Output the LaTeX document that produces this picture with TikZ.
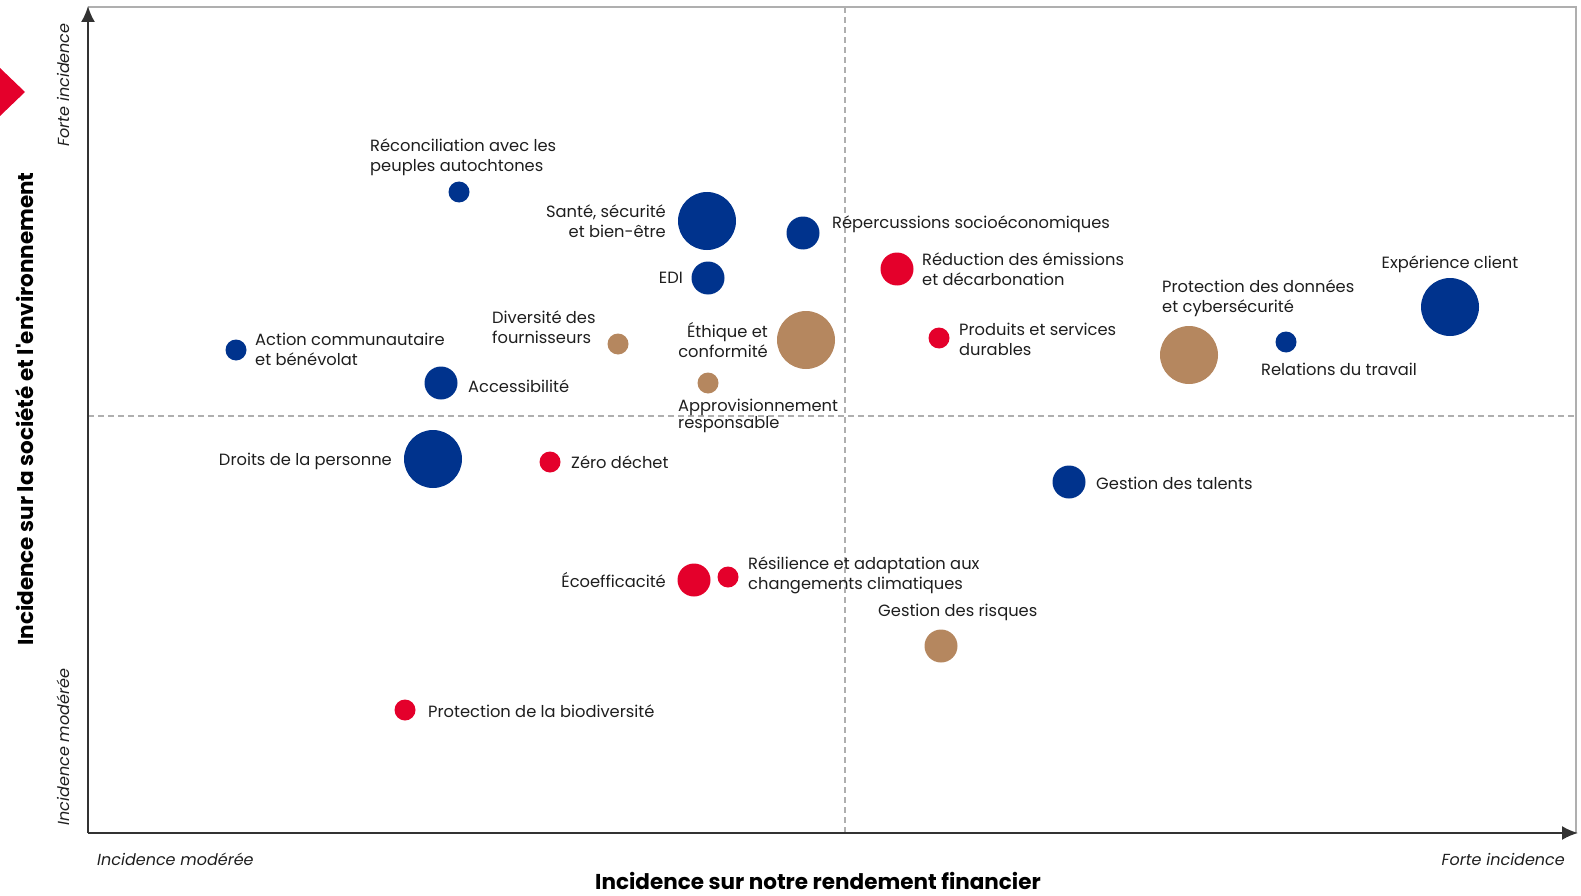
\documentclass[tikz,border=0pt]{standalone}
\usepackage{fontspec}
\setmainfont{Poppins}
\usetikzlibrary{arrows.meta}
\definecolor{navy}{RGB}{0,51,141}
\definecolor{brandred}{RGB}{228,0,43}
\definecolor{tan}{RGB}{181,135,95}
\definecolor{ink}{RGB}{30,30,30}
\definecolor{axisgrey}{RGB}{50,50,50}
\definecolor{framegrey}{RGB}{175,175,175}
\newcommand{\lbl}{\fontsize{16.3}{20}\selectfont}

\begin{document}
\begin{tikzpicture}[x=1pt,y=-1pt,
		dot/.style={circle,inner sep=0pt,minimum size=#1},
		sdot/.style={dot=21pt},
		mdot/.style={dot=33pt},
		ldot/.style={dot=58pt},
		lab/.style={inner sep=0pt,text=ink,font=\lbl},
		axlab/.style={inner sep=0pt,text=ink,font=\fontsize{16}{19}\selectfont\itshape},
		axtitle/.style={inner sep=0pt,text=black,font=\fontsize{21.5}{25}\selectfont\bfseries},
		guide/.style={framegrey,line width=1.2pt,dash pattern=on 6pt off 4pt},
		axis/.style={axisgrey,line width=2pt,-{Latex[length=16pt,width=14pt]}}]
		\useasboundingbox (0,0) rectangle (1581,896);

		\fill[brandred] (0,68)--(25,92)--(0,116)--cycle;

		\coordinate (o) at (88,833);
		\coordinate (ytop) at (88,6);
		\coordinate (xend) at (1578,833);
		\coordinate (tr) at (1576,7);
		\coordinate (vtop) at (845,7);
		\coordinate (vbot) at (845,833);
		\coordinate (hl) at (88,416);
		\coordinate (hr) at (1576,416);

		\draw[framegrey,line width=1.5pt] (88,7)--(tr)--(tr|-o);
		\draw[guide] (vtop)--(vbot);
		\draw[guide] (hl)--(hr);
		\draw[axis] (o)--(ytop);
		\draw[axis] (o)--(xend);

		\node[sdot,fill=navy] at (459,192)(recon){};
		\node[ldot,fill=navy] at (707,221)(sante){};
		\node[mdot,fill=navy] at (803,233)(reperc){};
		\node[mdot,fill=navy] at (708,278)(edi){};
		\node[mdot,fill=brandred] at (897,269)(reduc){};
		\node[sdot,fill=brandred] at (939,338)(produits){};
		\node[ldot,fill=tan] at (1189,355)(donnees){};
		\node[sdot,fill=navy] at (1286,342)(relations){};
		\node[ldot,fill=navy] at (1450,307)(client){};
		\node[sdot,fill=navy] at (236,350)(action){};
		\node[mdot,fill=navy] at (441,383)(access){};
		\node[ldot,fill=navy] at (433,459)(droits){};
		\node[sdot,fill=tan] at (618,344)(fourn){};
		\node[ldot,fill=tan] at (806,340)(ethique){};
		\node[sdot,fill=tan] at (708,383)(approv){};
		\node[sdot,fill=brandred] at (550,462)(zero){};
		\node[mdot,fill=navy] at (1069,482)(talents){};
		\node[mdot,fill=brandred] at (694,580)(ecoeff){};
		\node[sdot,fill=brandred] at (728,577)(resil){};
		\node[mdot,fill=tan] at (941,646)(risques){};
		\node[sdot,fill=brandred] at (405,710)(biodiv){};

		\node[lab,anchor=west,align=left] at (370,157)(recon-t){Réconciliation avec les\\peuples autochtones};
		\node[lab,anchor=east,align=right] at (666,221)(sante-t){Santé, sécurité\\et bien-être};
		\node[lab,anchor=west] at (832,224)(reperc-t){Répercussions socioéconomiques};
		\node[lab,anchor=east] at (683,278)(edi-t){EDI};
		\node[lab,anchor=west,align=left] at (922,269)(reduc-t){Réduction des émissions\\et décarbonation};
		\node[lab] at (1450,264)(client-t){Expérience client};
		\node[lab,anchor=west,align=left] at (1162,298)(donnees-t){Protection des données\\et cybersécurité};
		\node[lab,anchor=west,align=left] at (255,349)(action-t){Action communautaire\\et bénévolat};
		\node[lab,anchor=west,align=left] at (492,327)(fourn-t){Diversité des\\fournisseurs};
		\node[lab,anchor=east,align=right] at (768,340)(ethique-t){Éthique et\\conformité};
		\node[lab,anchor=west,align=left] at (959,339)(produits-t){Produits et services\\durables};
		\node[lab,anchor=west] at (1261,369)(relations-t){Relations du travail};
		\node[lab,anchor=west] at (468,386)(access-t){Accessibilité};
		\node[lab,anchor=west,align=left,font=\fontsize{16.3}{17.5}\selectfont] at (678,416)(approv-t){Approvisionnement\\responsable};
		\node[lab,anchor=east] at (392,461)(droits-t){Droits de la personne};
		\node[lab,anchor=west] at (571,462)(zero-t){Zéro déchet};
		\node[lab,anchor=west] at (1096,483)(talents-t){Gestion des talents};
		\node[lab,anchor=east] at (666,580)(ecoeff-t){Écoefficacité};
		\node[lab,anchor=west,align=left] at (748,575)(resil-t){Résilience et adaptation aux\\changements climatiques};
		\node[lab,anchor=west] at (878,612)(risques-t){Gestion des risques};
		\node[lab,anchor=west] at (428,711)(biodiv-t){Protection de la biodiversité};

		\node[axlab,anchor=west] at (97,859)(xlow){Incidence modérée};
		\node[axlab,anchor=east] at (1565,859)(xhigh){Forte incidence};
		\node[axlab,rotate=90] at (63,85)(yhigh){Forte incidence};
		\node[axlab,rotate=90] at (63,747)(ylow){Incidence modérée};
		\node[axtitle,rotate=90] at (25,409)(ytitle){Incidence sur la société et l\textquotesingle environnement};
		\node[axtitle] at (818,881)(xtitle){Incidence sur notre rendement financier};
	\end{tikzpicture}
\end{document}
